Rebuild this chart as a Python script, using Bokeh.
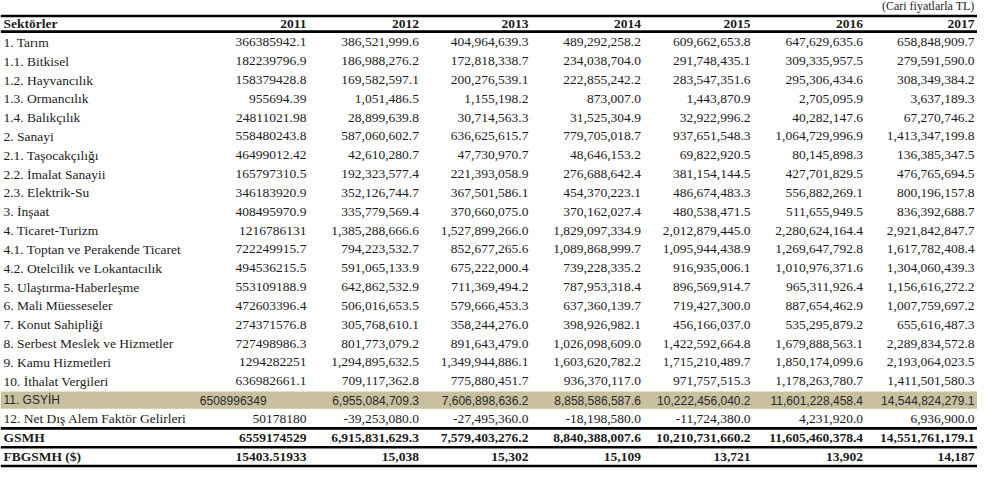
from bokeh.plotting import figure
from bokeh.models import ColumnDataSource, Range1d
from bokeh.core.properties import value
from bokeh.embed import file_html
from bokeh.resources import INLINE

# ---------------- data ----------------
sectors = ["1. Tarım", "1.1. Bitkisel", "1.2. Hayvancılık", "1.3. Ormancılık",
           "1.4. Balıkçılık", "2. Sanayi", "2.1. Taşocakçılığı", "2.2. İmalat Sanayii",
           "2.3. Elektrik-Su", "3. İnşaat", "4. Ticaret-Turizm",
           "4.1. Toptan ve Perakende Ticaret", "4.2. Otelcilik ve Lokantacılık",
           "5. Ulaştırma-Haberleşme", "6. Mali Müesseseler", "7. Konut Sahipliği",
           "8. Serbest Meslek ve Hizmetler", "9. Kamu Hizmetleri", "10. İthalat Vergileri",
           "11. GSYİH", "12. Net Dış Alem Faktör Gelirleri", "GSMH", "FBGSMH ($)"]

years = ["2011", "2012", "2013", "2014", "2015", "2016", "2017"]

v2011 = [366385942.1, 182239796.9, 158379428.8, 955694.39, 24811021.98, 558480243.8,
         46499012.42, 165797310.5, 346183920.9, 408495970.9, 1216786131, 722249915.7,
         494536215.5, 553109188.9, 472603396.4, 274371576.8, 727498986.3, 1294282251,
         636982661.1, 6508996349, 50178180, 6559174529, 15403.51933]
v2012 = [386521999.6, 186988276.2, 169582597.1, 1051486.5, 28899639.8, 587060602.7,
         42610280.7, 192323577.4, 352126744.7, 335779569.4, 1385288666.6, 794223532.7,
         591065133.9, 642862532.9, 506016653.5, 305768610.1, 801773079.2, 1294895632.5,
         709117362.8, 6955084709.3, -39253080.0, 6915831629.3, 15038]
v2013 = [404964639.3, 172818338.7, 200276539.1, 1155198.2, 30714563.3, 636625615.7,
         47730970.7, 221393058.9, 367501586.1, 370660075.0, 1527899266.0, 852677265.6,
         675222000.4, 711369494.2, 579666453.3, 358244276.0, 891643479.0, 1349944886.1,
         775880451.7, 7606898636.2, -27495360.0, 7579403276.2, 15302]
v2014 = [489292258.2, 234038704.0, 222855242.2, 873007.0, 31525304.9, 779705018.7,
         48646153.2, 276688642.4, 454370223.1, 370162027.4, 1829097334.9, 1089868999.7,
         739228335.2, 787953318.4, 637360139.7, 398926982.1, 1026098609.0, 1603620782.2,
         936370117.0, 8858586587.6, -18198580.0, 8840388007.6, 15109]
v2015 = [609662653.8, 291748435.1, 283547351.6, 1443870.9, 32922996.2, 937651548.3,
         69822920.5, 381154144.5, 486674483.3, 480538471.5, 2012879445.0, 1095944438.9,
         916935006.1, 896569914.7, 719427300.0, 456166037.0, 1422592664.8, 1715210489.7,
         971757515.3, 10222456040.2, -11724380.0, 10210731660.2, 13721]
v2016 = [647629635.6, 309335957.5, 295306434.6, 2705095.9, 40282147.6, 1064729996.9,
         80145898.3, 427701829.5, 556882269.1, 511655949.5, 2280624164.4, 1269647792.8,
         1010976371.6, 965311926.4, 887654462.9, 535295879.2, 1679888563.1, 1850174099.6,
         1178263780.7, 11601228458.4, 4231920.0, 11605460378.4, 13902]
v2017 = [658848909.7, 279591590.0, 308349384.2, 3637189.3, 67270746.2, 1413347199.8,
         136385347.5, 476765694.5, 800196157.8, 836392688.7, 2921842847.7, 1617782408.4,
         1304060439.3, 1156616272.2, 1007759697.2, 655616487.3, 2289834572.8, 2193064023.5,
         1411501580.3, 14544824279.1, 6936900.0, 14551761179.1, 14187]

columns = [v2011, v2012, v2013, v2014, v2015, v2016, v2017]
unit_note = "(Cari fiyatlarla TL)"
header_label = "Sektörler"

# ---------------- layout ----------------
ROW0, ROWH = 45.0, 19.35
HEADER_Y = 26.0
LABEL_X = 6
COL_RIGHT = [313, 427, 538, 652, 763, 877, 990]
HILITE = 19          # "11. GSYİH"
BOLD_ROWS = {21, 22}
SERIF = value("Liberation Serif")
SANS = value("Liberation Sans")
TXT = "#1c1c1c"

def fmt(row, col, v):
    if col == 0:
        return format(v, ".10g")
    if row == 22:
        return f"{v:,.0f}"
    return f"{v:,.1f}"

p = figure(width=977, height=471, output_backend="svg", toolbar_location=None,
           x_range=Range1d(3, 993), y_range=Range1d(486, 2),
           x_axis_type=None, y_axis_type=None, min_border=0,
           background_fill_color="white", border_fill_color="white")
p.outline_line_color = None
p.grid.visible = False

# highlight band for row 11
yc = ROW0 + HILITE * ROWH
p.quad(left=[3], right=[993], top=[yc - 8.8], bottom=[yc + 8.8],
       fill_color="#C9C09F", line_color=None)

# rules
rule_y = [18, 34, ROW0 + 20.5 * ROWH, ROW0 + 21.5 * ROWH, ROW0 + 22.5 * ROWH]
p.segment(x0=[3] * len(rule_y), x1=[993] * len(rule_y), y0=rule_y, y1=rule_y,
          line_color="black", line_width=2.6)

# collect cells
groups = {}
def add(key, x, y, t):
    g = groups.setdefault(key, dict(x=[], y=[], t=[]))
    g["x"].append(x); g["y"].append(y); g["t"].append(t)

add(("serif", "bold", "left"), LABEL_X, HEADER_Y, header_label)
for j, yr in enumerate(years):
    add(("serif", "bold", "right"), COL_RIGHT[j], HEADER_Y, yr)

for i, name in enumerate(sectors):
    y = ROW0 + i * ROWH
    if i == HILITE:
        add(("sans", "normal", "left"), LABEL_X, y, name)
        add(("sans", "normal", "left"), 205, y, fmt(i, 0, columns[0][i]))
        for j in range(1, len(years)):
            add(("sans", "normal", "right"), COL_RIGHT[j], y, fmt(i, j, columns[j][i]))
        continue
    style = "bold" if i in BOLD_ROWS else "normal"
    add(("serif", style, "left"), LABEL_X, y, name)
    for j in range(len(years)):
        add(("serif", style, "right"), COL_RIGHT[j], y, fmt(i, j, columns[j][i]))

for (fam, style, align), g in groups.items():
    src = ColumnDataSource(dict(x=g["x"], y=g["y"], t=g["t"]))
    p.text(x="x", y="y", text="t", source=src,
           text_font=SERIF if fam == "serif" else SANS,
           text_font_size="13.5px" if fam == "serif" else "12px",
           text_font_style=style, text_align=align, text_baseline="middle",
           text_color=TXT if fam == "serif" else "#2a2a2a")

p.text(x=[990], y=[8], text=[unit_note], text_font=SERIF, text_font_size="12px",
       text_align="right", text_baseline="middle", text_color=TXT)

open("out.html", "w").write(file_html(p, INLINE))
